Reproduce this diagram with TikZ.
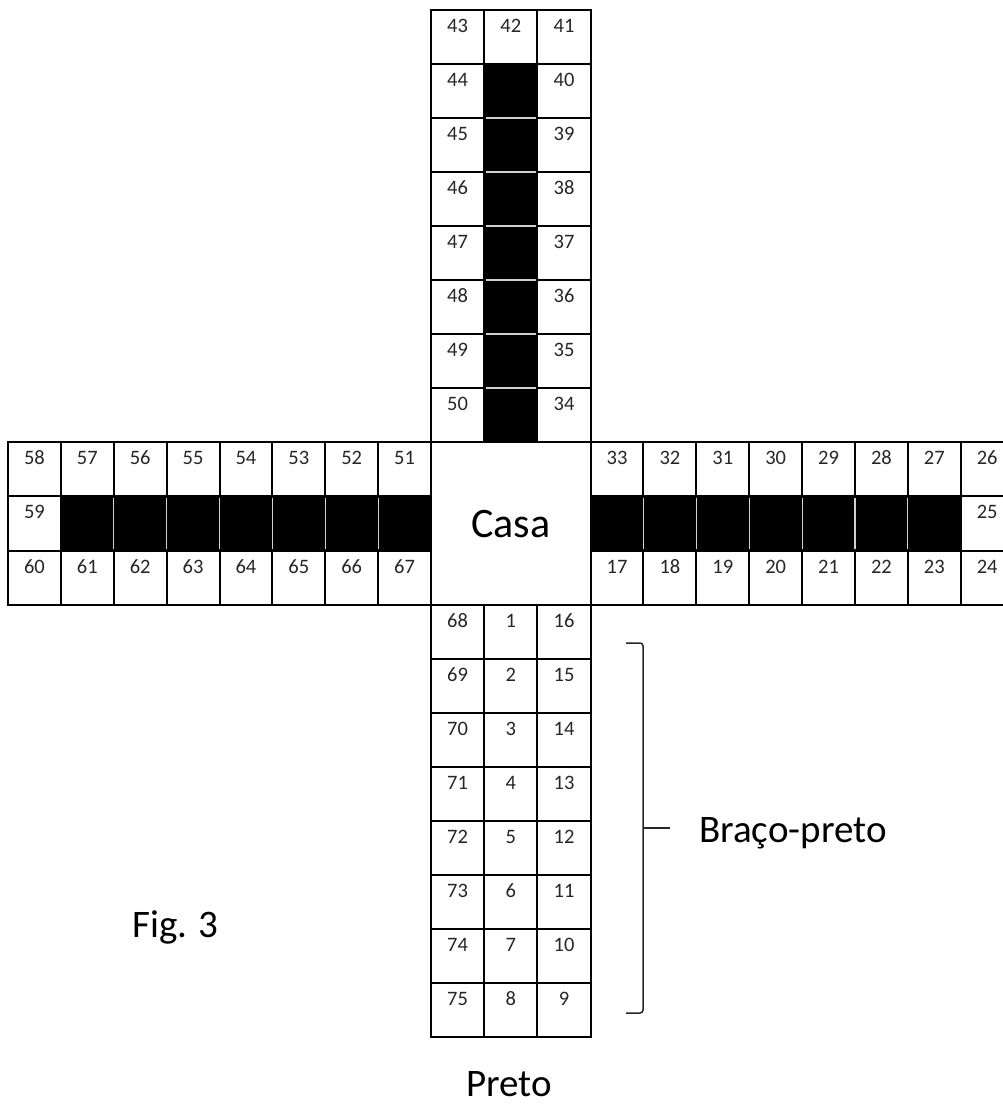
\documentclass[tikz,border=0pt]{standalone}
\usepackage{fontspec}
\setmainfont{Carlito}
\begin{document}
\begin{tikzpicture}[x=1pt,y=-1pt,
  cellbox/.style={draw=black,line width=2pt,inner sep=0pt,outer sep=0pt,anchor=north west},
  tcell/.style={cellbox,minimum width=53.2pt,minimum height=54pt},
  acell/.style={cellbox,minimum width=52.875pt,minimum height=54.333pt},
  dark/.style={fill=black},
  num/.style={font=\fontsize{20.5}{22}\selectfont,text=black!85,inner sep=0pt,yshift=-16pt},
  sep/.style={draw=black!18,line width=1.2pt,shorten <=1.3pt,shorten >=1.3pt},
  big/.style={font=\fontsize{39}{44}\selectfont,inner sep=0pt},
  brace/.style={draw=black!85,line width=1.5pt,rounded corners=3pt}]
\useasboundingbox (0,0) rectangle (1003,1106);
\clip (0,0) rectangle (1003,1106);
% top arm
\foreach \c/\n in {0/43,1/42,2/41}{
  \node[tcell] (t0\c) at ({431+\c*53.2},10) {};
  \node[num] (nt0\c) at (t0\c.north) {\n};
}
\foreach \r in {1,...,7}{
  \pgfmathtruncatemacro\na{43+\r}
  \pgfmathtruncatemacro\nb{41-\r}
  \node[tcell] (t\r0) at (431,{10+\r*54}) {};
  \node[num] (nt\r0) at (t\r0.north) {\na};
  \node[tcell,dark] (t\r1) at (484.2,{10+\r*54}) {};
  \node[tcell] (t\r2) at (537.4,{10+\r*54}) {};
  \node[num] (nt\r2) at (t\r2.north) {\nb};
}
% left arm
\foreach \c in {0,...,7}{
  \pgfmathtruncatemacro\na{58-\c}
  \pgfmathtruncatemacro\nb{60+\c}
  \node[acell] (l0\c) at ({8+\c*52.875},442) {};
  \node[num] (nl0\c) at (l0\c.north) {\na};
  \node[acell] (l2\c) at ({8+\c*52.875},{442+2*54.333}) {};
  \node[num] (nl2\c) at (l2\c.north) {\nb};
}
\node[acell] (l10) at (8,{442+54.333}) {};
\node[num] (nl10) at (l10.north) {59};
\foreach \c in {1,...,7}{
  \node[acell,dark] (l1\c) at ({8+\c*52.875},{442+54.333}) {};
}
% right arm
\foreach \c in {0,...,7}{
  \pgfmathtruncatemacro\na{33-\c}
  \pgfmathtruncatemacro\nb{17+\c}
  \node[acell] (r0\c) at ({590.6+\c*52.875},442) {};
  \node[num] (nr0\c) at (r0\c.north) {\na};
  \node[acell] (r2\c) at ({590.6+\c*52.875},{442+2*54.333}) {};
  \node[num] (nr2\c) at (r2\c.north) {\nb};
}
\foreach \c in {0,...,6}{
  \node[acell,dark] (r1\c) at ({590.6+\c*52.875},{442+54.333}) {};
}
\node[acell] (r17) at ({590.6+7*52.875},{442+54.333}) {};
\node[num] (nr17) at (r17.north) {25};
% bottom arm
\foreach \r in {0,...,7}{
  \pgfmathtruncatemacro\na{68+\r}
  \pgfmathtruncatemacro\nb{1+\r}
  \pgfmathtruncatemacro\nc{16-\r}
  \node[tcell] (b\r0) at (431,{605+\r*54}) {};
  \node[num] (nb\r0) at (b\r0.north) {\na};
  \node[tcell] (b\r1) at (484.2,{605+\r*54}) {};
  \node[num] (nb\r1) at (b\r1.north) {\nb};
  \node[tcell] (b\r2) at (537.4,{605+\r*54}) {};
  \node[num] (nb\r2) at (b\r2.north) {\nc};
}
% centre
\node[cellbox,minimum width=159.6pt,minimum height=163pt] (casa) at (431,442) {};
\node[big,font=\fontsize{42}{46}\selectfont,anchor=base] (casatext) at (511,537) {Casa};
% separators between black cells
\foreach \r in {2,...,7}{ \draw[sep] (t\r1.north west) -- (t\r1.north east); }
\foreach \c in {2,...,7}{ \draw[sep] (l1\c.north west) -- (l1\c.south west); }
\foreach \c in {1,...,6}{ \draw[sep] (r1\c.north west) -- (r1\c.south west); }
% bracket
\coordinate (bt0) at (626,643);
\coordinate (bt1) at (643,643);
\coordinate (bb1) at (643,1013);
\coordinate (bb0) at (626,1013);
\coordinate (bm) at (643,828);
\coordinate (bmt) at (670,828);
\draw[brace] (bt0) -- (bt1) -- (bb1) -- (bb0);
\draw[draw=black!85,line width=1.5pt] (bm) -- (bmt);
\node[big,anchor=base west] (braco) at (699,842) {Braço-preto};
\node[big,anchor=base west] (preto) at (466,1096) {Preto};
\node[big,anchor=base west] (fig) at (132,937) {Fig. 3};
\end{tikzpicture}
\end{document}
